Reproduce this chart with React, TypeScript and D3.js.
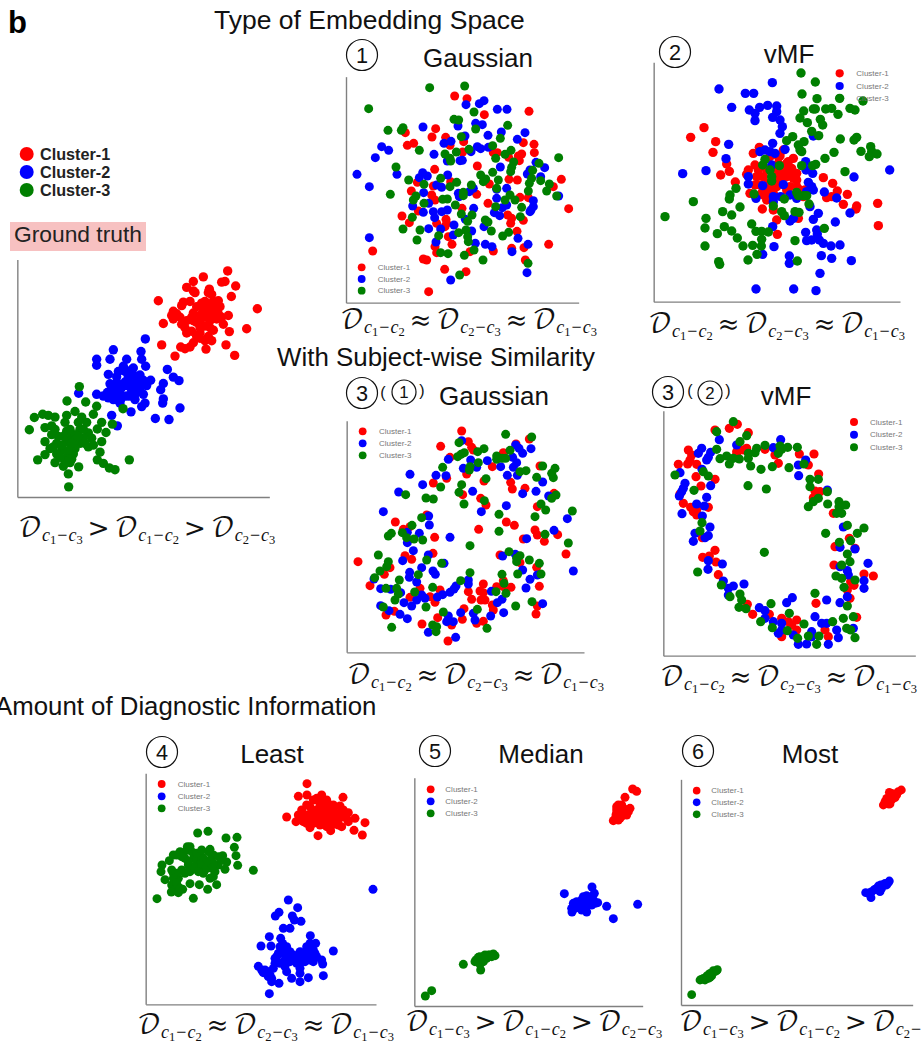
import React, { useEffect, useRef } from 'react'
import * as d3 from 'd3'

type Pt = [number, number]

const seriesNames = ['Cluster-1', 'Cluster-2', 'Cluster-3']
const seriesColors = ['#ff0000', '#0000ff', '#007f00']

const truthRed: Pt[] = [[683,773],[610,790],[580,803],[560,820],[665,805],[675,803],[707,816],[628,825],[585,835],[635,840],[694,846],[475,858],[550,862],[605,865],[655,858],[545,872],[640,880],[772,881],[520,888],[580,893],[630,890],[660,875],[515,900],[540,905],[600,900],[685,900],[620,905],[650,910],[490,923],[560,915],[590,920],[670,925],[555,935],[610,930],[640,942],[740,938],[688,946],[575,945],[600,950],[625,960],[560,950],[635,972],[615,972],[580,978],[485,984],[542,990],[570,990],[678,984],[618,996],[525,1016],[704,1014],[555,995],[600,935],[520,910],[665,905],[590,875],[610,885],[570,860],[645,868],[630,915],[580,915],[600,915],[615,930],[575,905],[640,900],[630,935],[590,960],[600,965],[545,925],[530,895],[655,895],[615,860],[625,875],[580,830],[625,835],[640,860]]
const truthBlue: Pt[] = [[436,967],[340,998],[423,1003],[290,1025],[330,1025],[380,1025],[425,1025],[290,1042],[437,1045],[370,1045],[400,1050],[502,1054],[325,1068],[355,1060],[420,1070],[385,1075],[520,1076],[537,1086],[350,1090],[452,1085],[330,1095],[490,1094],[415,1100],[375,1090],[440,1100],[345,1105],[482,1112],[405,1108],[322,1120],[236,1122],[290,1125],[350,1125],[430,1125],[310,1130],[380,1130],[490,1138],[340,1140],[405,1140],[435,1150],[488,1150],[360,1150],[425,1160],[540,1164],[393,1175],[335,1185],[466,1194],[507,1197],[352,1215],[395,1115],[410,1085],[365,1105],[335,1115],[420,1090],[375,1060],[350,1075],[400,1070],[380,1100],[395,1095],[360,1115],[340,1125],[325,1135],[350,1140],[420,1110],[405,1125],[390,1130],[380,1060],[395,1055],[430,1085],[365,1135],[350,1108]]
const truthGreen: Pt[] = [[238,1103],[201,1144],[257,1147],[290,1159],[369,1166],[225,1174],[128,1182],[145,1185],[165,1190],[103,1191],[280,1182],[200,1185],[245,1190],[88,1226],[135,1220],[155,1215],[195,1205],[235,1205],[305,1205],[260,1205],[337,1210],[292,1224],[318,1234],[165,1225],[200,1230],[240,1225],[265,1235],[155,1240],[215,1245],[250,1250],[275,1250],[135,1260],[170,1265],[305,1260],[200,1260],[240,1265],[150,1280],[185,1285],[225,1280],[265,1275],[135,1297],[170,1295],[300,1290],[220,1295],[113,1312],[200,1305],[388,1312],[292,1312],[165,1320],[190,1330],[310,1322],[236,1332],[328,1335],[345,1340],[205,1352],[206,1389],[215,1310],[185,1270],[280,1270],[225,1240],[210,1225],[225,1255],[190,1245],[175,1245],[215,1265],[205,1285],[235,1245],[250,1225],[255,1265],[195,1315],[180,1305],[210,1320],[160,1275]]

const gaussRed: Pt[] = [[374,198],[411,206],[463,254],[597,244],[226,308],[317,296],[306,321],[347,322],[232,346],[251,340],[360,346],[401,335],[612,343],[580,338],[613,368],[490,368],[502,368],[398,366],[575,372],[565,378],[536,382],[568,392],[442,408],[314,418],[694,448],[262,457],[362,455],[478,462],[537,448],[562,450],[310,468],[244,483],[440,493],[595,503],[570,502],[305,495],[315,510],[474,520],[396,535],[716,536],[265,543],[216,558],[533,555],[238,578],[545,565],[348,568],[320,580],[542,580],[580,571],[345,590],[561,604],[355,620],[656,643],[366,643],[128,663],[315,650],[320,668],[490,663],[545,655],[582,653],[280,687],[290,690],[420,665],[586,690],[344,718],[408,725],[296,785],[350,580],[670,470]]
const gaussBlue: Pt[] = [[408,224],[462,212],[448,221],[502,238],[531,238],[437,280],[457,284],[384,288],[279,291],[405,318],[514,306],[585,308],[474,316],[562,328],[342,340],[363,334],[155,350],[176,361],[442,350],[452,356],[475,352],[423,365],[312,373],[136,383],[352,393],[390,392],[397,391],[511,411],[618,397],[644,413],[600,420],[592,432],[81,433],[201,433],[278,428],[268,443],[292,438],[353,435],[632,440],[118,470],[320,465],[335,472],[500,478],[530,475],[281,488],[430,475],[385,490],[418,485],[388,500],[686,498],[500,505],[610,512],[248,528],[296,520],[517,533],[530,525],[610,530],[431,535],[600,545],[310,545],[280,547],[335,545],[352,540],[314,563],[493,548],[509,557],[603,540],[406,568],[372,585],[462,590],[296,596],[332,597],[370,615],[425,603],[118,623],[564,625],[318,636],[436,640],[466,643],[486,650],[594,643],[546,665],[591,728],[362,750]]
const gaussGreen: Pt[] = [[404,168],[299,173],[116,236],[432,246],[372,268],[386,270],[533,286],[174,301],[219,293],[214,301],[437,297],[394,320],[511,325],[268,361],[488,347],[543,361],[417,358],[379,366],[345,372],[525,373],[497,385],[360,385],[362,393],[551,396],[686,383],[627,400],[198,411],[545,412],[608,421],[488,427],[542,425],[452,435],[467,447],[236,450],[332,445],[605,445],[505,450],[632,452],[460,455],[380,457],[282,463],[598,460],[360,470],[424,465],[658,462],[500,475],[595,483],[181,493],[650,483],[400,487],[680,498],[258,498],[400,497],[338,508],[540,495],[250,510],[282,520],[352,507],[525,510],[555,510],[376,525],[497,530],[575,532],[394,552],[426,555],[247,562],[571,560],[413,574],[466,570],[474,576],[219,597],[270,600],[484,603],[386,608],[408,600],[326,617],[413,620],[536,607],[518,618],[261,630],[415,635],[432,660],[332,668],[354,671],[403,676],[459,690],[594,700],[389,735]]

const vmfRed: Pt[] = [[222,293],[182,322],[257,335],[249,367],[290,402],[298,424],[272,435],[316,456],[355,420],[350,433],[388,352],[370,370],[375,405],[460,360],[450,378],[490,385],[475,395],[445,400],[485,415],[465,420],[450,430],[380,440],[490,445],[500,450],[440,450],[375,465],[580,443],[608,460],[622,483],[652,493],[360,490],[400,480],[440,470],[480,470],[590,503],[605,500],[640,523],[680,528],[678,537],[743,520],[745,587],[410,510],[400,495],[430,490],[397,537],[430,540],[440,570],[505,565],[442,613],[470,400],[420,380],[455,410],[415,460],[525,480],[520,500],[390,465],[410,420],[400,440],[420,470],[470,440],[480,430],[385,420],[395,490],[415,490],[470,480],[500,470],[510,480],[445,380],[440,420],[430,440],[455,450],[500,430]]
const vmfBlue: Pt[] = [[427,158],[267,177],[346,190],[371,190],[305,232],[358,240],[389,232],[413,226],[440,228],[440,245],[375,250],[428,262],[450,270],[375,272],[457,290],[450,310],[550,318],[296,343],[428,340],[405,360],[390,365],[420,365],[435,370],[465,358],[288,386],[425,405],[527,395],[228,422],[158,431],[779,420],[528,420],[548,430],[672,441],[355,440],[355,462],[398,467],[460,464],[535,457],[545,470],[530,485],[583,486],[378,505],[430,500],[452,500],[480,495],[500,505],[550,480],[620,504],[430,515],[540,530],[660,549],[565,550],[550,568],[490,565],[480,573],[616,576],[428,590],[527,607],[560,600],[562,612],[530,632],[545,630],[568,630],[580,640],[603,648],[630,645],[432,650],[398,673],[478,678],[574,677],[605,685],[664,692],[478,700],[570,730],[378,777],[491,777],[558,782]]
const vmfGreen: Pt[] = [[513,129],[556,156],[516,192],[561,206],[629,205],[699,213],[521,243],[550,237],[556,237],[587,237],[605,235],[660,235],[675,240],[624,253],[510,264],[532,278],[571,268],[578,285],[545,304],[566,317],[488,320],[470,332],[631,327],[680,322],[672,330],[522,335],[505,345],[722,350],[510,360],[515,365],[693,364],[612,367],[725,365],[741,372],[718,380],[585,385],[405,388],[398,405],[448,407],[557,403],[515,407],[548,407],[645,425],[420,420],[425,440],[425,453],[318,475],[300,495],[298,507],[372,492],[500,487],[505,497],[520,497],[530,497],[190,515],[330,531],[430,528],[463,507],[537,522],[278,545],[305,555],[455,545],[495,545],[507,547],[463,557],[105,560],[228,565],[365,582],[225,594],[283,590],[305,603],[262,611],[378,604],[395,604],[415,606],[583,595],[322,624],[395,628],[495,632],[225,648],[339,648],[368,646],[394,648],[381,673],[354,690],[266,695],[269,703],[502,693]]

const subGaussRed: Pt[] = [[395,183],[415,215],[332,229],[425,232],[598,207],[558,222],[520,248],[360,262],[430,240],[487,290],[630,288],[350,325],[310,339],[410,312],[462,333],[542,337],[585,355],[547,357],[672,370],[398,374],[452,385],[468,405],[622,410],[290,435],[196,456],[529,456],[553,466],[446,478],[220,478],[240,470],[615,480],[622,495],[683,494],[314,502],[580,507],[643,514],[225,557],[309,550],[510,555],[708,552],[245,568],[84,575],[570,578],[180,593],[620,592],[163,613],[120,647],[460,642],[500,650],[520,632],[543,652],[628,649],[415,665],[450,663],[460,668],[270,655],[330,660],[300,680],[240,682],[425,688],[453,690],[465,690],[315,697],[487,705],[490,720],[402,716],[622,708],[193,724],[168,735],[618,732],[323,743],[397,748],[460,754],[440,760],[276,762],[365,765],[354,813],[520,650]]
const subGaussBlue: Pt[] = [[395,212],[557,225],[567,235],[603,236],[578,250],[355,268],[422,270],[472,272],[548,262],[560,278],[512,290],[400,295],[440,292],[550,292],[240,313],[318,316],[348,317],[278,344],[532,316],[562,316],[206,366],[428,364],[578,371],[618,364],[656,378],[638,336],[529,407],[160,425],[454,425],[296,438],[712,446],[298,465],[232,487],[268,490],[360,502],[232,518],[672,481],[590,506],[250,542],[295,555],[518,558],[556,553],[218,572],[342,580],[275,593],[578,600],[309,603],[730,603],[239,607],[316,613],[238,622],[622,615],[132,627],[600,628],[260,636],[415,630],[415,642],[152,656],[182,658],[378,648],[588,654],[372,657],[484,664],[212,668],[360,667],[275,675],[222,698],[338,674],[322,681],[260,690],[285,685],[516,688],[502,698],[245,708],[152,707],[638,701],[177,722],[430,730],[210,733],[521,728],[232,746],[392,728],[482,738],[355,738],[350,755],[370,755],[435,750],[295,787],[377,802]]
const subGaussGreen: Pt[] = [[527,193],[605,201],[387,218],[462,236],[540,241],[443,245],[403,248],[393,253],[383,260],[500,258],[500,268],[517,265],[527,265],[445,278],[638,288],[675,295],[338,292],[420,290],[418,300],[570,305],[588,302],[665,310],[670,323],[620,322],[468,326],[395,344],[332,351],[387,367],[227,374],[288,384],[310,387],[678,375],[665,385],[463,392],[402,402],[633,402],[647,420],[507,433],[615,440],[727,423],[275,443],[246,466],[507,484],[184,490],[175,498],[217,488],[230,503],[252,507],[278,510],[645,493],[420,527],[715,519],[537,545],[145,555],[570,557],[560,565],[290,570],[598,570],[335,580],[175,575],[560,575],[628,580],[170,590],[150,603],[420,608],[563,612],[633,612],[265,614],[516,613],[134,623],[208,630],[392,632],[522,640],[168,655],[308,652],[200,655],[498,665],[528,670],[254,666],[205,672],[195,690],[606,695],[288,711],[557,708],[160,711],[442,718],[340,726],[308,765],[320,770],[185,772],[471,775],[318,785]]

const subVmfRed: Pt[] = [[268,175],[292,163],[225,180],[325,188],[145,240],[290,245],[320,235],[155,255],[478,252],[522,252],[150,270],[170,283],[115,283],[143,282],[290,255],[375,238],[405,255],[415,280],[505,285],[536,312],[168,320],[225,328],[183,348],[525,363],[120,372],[540,365],[520,383],[130,400],[205,412],[152,412],[170,420],[160,425],[170,435],[580,430],[187,503],[628,505],[225,541],[585,530],[645,535],[188,562],[208,558],[228,576],[582,585],[235,614],[672,612],[700,618],[632,635],[642,646],[622,660],[630,685],[528,700],[322,703],[338,733],[388,733],[425,745],[445,755],[470,750],[455,765],[470,780],[425,800],[650,742],[555,780],[565,800],[310,240]]
const subVmfBlue: Pt[] = [[238,209],[422,209],[290,225],[185,235],[400,233],[175,250],[212,247],[205,262],[200,270],[497,270],[186,298],[475,285],[476,317],[120,308],[212,347],[135,340],[130,355],[125,365],[118,378],[562,360],[200,382],[170,402],[193,408],[126,431],[187,438],[210,471],[165,490],[205,497],[195,503],[160,514],[610,471],[600,532],[645,537],[205,572],[247,582],[204,598],[684,580],[600,590],[622,602],[625,615],[250,633],[312,642],[280,648],[265,655],[265,675],[672,632],[672,655],[622,680],[457,683],[440,698],[560,690],[600,698],[358,713],[375,722],[375,745],[525,740],[425,760],[400,755],[545,760],[560,760],[640,775],[415,790],[425,780],[515,785],[460,795],[590,780],[515,800],[595,803],[475,823],[500,822],[565,823]]
const subVmfGreen: Pt[] = [[280,155],[230,185],[320,197],[300,215],[230,238],[350,235],[375,226],[420,228],[425,238],[443,232],[472,232],[345,248],[415,250],[240,266],[260,258],[280,265],[298,267],[325,250],[325,265],[268,282],[332,288],[397,290],[447,293],[363,298],[492,282],[105,315],[190,305],[205,318],[510,328],[535,328],[510,350],[324,347],[379,357],[162,361],[562,365],[535,385],[520,395],[505,410],[563,402],[597,395],[617,405],[597,410],[590,430],[605,430],[186,458],[622,466],[672,474],[180,483],[652,490],[557,490],[632,512],[598,517],[373,547],[622,552],[630,575],[605,585],[173,606],[588,618],[605,625],[645,630],[244,645],[612,652],[525,670],[270,680],[300,672],[305,690],[393,701],[297,712],[318,716],[622,708],[448,730],[362,755],[610,745],[640,740],[578,755],[492,762],[397,773],[442,782],[620,775],[632,780],[505,798],[537,798],[473,805],[645,803],[530,823]]

const leastRed: Pt[] = [[531,161],[505,199],[531,195],[575,195],[639,202],[550,210],[590,210],[530,225],[570,225],[630,228],[515,240],[545,240],[585,240],[610,240],[655,248],[470,261],[505,255],[530,255],[570,250],[600,255],[640,260],[675,265],[498,275],[520,275],[552,265],[585,270],[625,270],[655,275],[540,293],[570,285],[605,285],[635,290],[705,278],[672,301],[602,302],[697,315],[564,317],[550,280],[590,290],[615,265],[510,265],[560,240],[560,205],[580,215],[600,225],[540,230],[520,255],[555,255],[575,265],[590,255],[615,250],[630,250],[650,265],[625,285],[530,280],[560,270],[600,270],[640,240],[610,225],[590,225],[535,265],[570,240],[515,270]]
const leastBlue: Pt[] = [[475,510],[503,533],[447,547],[436,558],[487,558],[493,570],[513,574],[460,595],[480,595],[541,617],[418,620],[452,625],[393,648],[423,648],[458,640],[540,640],[557,640],[460,660],[480,665],[510,665],[540,660],[610,663],[440,680],[470,680],[500,680],[530,680],[560,680],[575,690],[435,700],[480,695],[510,700],[550,695],[385,709],[405,720],[465,710],[510,715],[578,702],[420,735],[470,725],[400,728],[485,745],[535,743],[580,737],[425,755],[447,760],[510,755],[418,791],[455,670],[525,695],[415,740],[729,478],[450,650],[470,650],[445,670],[465,690],[490,675],[520,670],[530,650],[550,660],[545,680],[520,690],[500,700],[450,700],[430,715],[415,725],[490,690],[555,670],[435,685],[425,745],[540,690],[510,730],[395,720]]
const leastGreen: Pt[] = [[203,309],[234,304],[288,324],[321,322],[313,352],[172,350],[240,358],[150,365],[185,365],[130,375],[210,375],[250,375],[278,377],[318,377],[118,392],[165,385],[200,395],[240,390],[290,396],[96,405],[323,406],[175,405],[265,405],[93,425],[200,415],[255,425],[285,418],[370,421],[130,430],[165,430],[220,430],[105,449],[145,445],[240,445],[125,465],[180,461],[208,464],[260,464],[135,480],[233,478],[124,486],[145,488],[158,478],[81,506],[190,505],[190,385],[160,370],[180,425],[170,360],[180,350],[200,370],[220,385],[230,400],[210,405],[190,410],[175,395],[155,380],[140,375],[250,400],[265,380],[245,415],[225,420],[205,425],[155,420],[140,430],[130,445],[275,390],[235,365],[215,360],[125,420],[250,440],[140,460],[150,475]]

const medianRed: Pt[] = [[698,177],[710,184],[675,202],[655,225],[650,240],[670,235],[690,235],[650,250],[670,250],[645,268],[660,265],[680,255],[655,235],[665,225],[648,255],[660,245],[675,245],[660,255],[655,270],[665,258],[640,272],[685,245],[650,230],[668,240],[678,240]]
const medianBlue: Pt[] = [[576,471],[493,491],[583,490],[560,497],[545,510],[530,515],[565,515],[593,518],[520,520],[550,525],[620,529],[713,523],[525,535],[516,546],[545,540],[560,546],[640,566],[575,525],[535,525],[540,520],[555,515],[570,505],[575,500],[550,510],[530,530],[540,530],[555,535],[560,525],[570,515],[585,520],[520,530],[515,535],[550,500],[580,510]]
const medianGreen: Pt[] = [[280,672],[265,675],[250,680],[235,682],[285,677],[228,690],[245,692],[190,703],[240,703],[242,720],[95,782],[76,798],[260,685],[270,675],[255,685],[240,690],[235,695],[250,695],[225,695],[245,685],[275,680],[240,680],[255,675]]

const mostRed: Pt[] = [[694,180],[658,187],[680,190],[675,203],[655,205],[650,215],[640,225],[660,222],[645,220],[655,215],[665,210],[670,200],[680,195],[660,200],[685,185],[665,190],[655,222],[645,215],[650,205]]
const mostBlue: Pt[] = [[658,453],[640,465],[625,468],[650,465],[615,478],[630,485],[587,488],[605,485],[603,503],[620,475],[635,475],[645,460],[625,480],[612,480],[600,488],[655,458],[632,465],[595,490]]
const mostGreen: Pt[] = [[142,719],[125,730],[110,738],[95,748],[105,750],[120,742],[65,794],[100,745],[115,735],[125,738],[135,725],[130,722],[115,745],[90,750],[110,745],[120,730],[140,722]]

const SANS = '"Liberation Sans", Arial, sans-serif'
const MATH = '"DejaVu Math TeX Gyre", "DejaVu Serif", serif'
const SERIF = '"Liberation Serif", serif'

// crop = where the enlarged crop starts on the page, ky = its vertical enlargement
const panels = [
  { id: 'truth', crop: [0, 0], ky: 2.853, x0: 52, x1: 808, y0: 1418, y1: 740, series: [truthRed, truthBlue, truthGreen], r: 4.7 },
  { id: 'gauss', crop: [330, 30], ky: 3, x0: 48, x1: 746, y0: 818, y1: 140, series: [gaussRed, gaussBlue, gaussGreen], r: 4.5, legend: [95, 143, [712, 747, 782]] },
  { id: 'vmf', crop: [630, 30], ky: 3, x0: 71, x1: 810, y0: 815, y1: 97, series: [vmfRed, vmfBlue, vmfGreen], r: 4.7, legend: [629, 679, [130, 168, 205]] },
  { id: 'subGauss', crop: [330, 370], ky: 3, x0: 50, x1: 762, y0: 847, y1: 152, series: [subGaussRed, subGaussBlue, subGaussGreen], r: 4.5, legend: [98, 147, [184, 220, 256]] },
  { id: 'subVmf', crop: [640, 370], ky: 3, x0: 70, x1: 826, y0: 857, y1: 122, series: [subVmfRed, subVmfBlue, subVmfGreen], r: 4.6, legend: [642, 690, [156, 194, 232]] },
  { id: 'least', crop: [130, 730], ky: 3, x0: 47, x1: 738, y0: 823, y1: 130, series: [leastRed, leastBlue, leastGreen], r: 4.5, legend: [95, 143, [162, 199, 235]] },
  { id: 'median', crop: [400, 730], ky: 3, x0: 43, x1: 728, y0: 828, y1: 143, series: [medianRed, medianBlue, medianGreen], r: 4.5, legend: [92, 136, [178, 214, 250]] },
  { id: 'most', crop: [670, 730], ky: 3, x0: 33, x1: 728, y0: 825, y1: 148, series: [mostRed, mostBlue, mostGreen], r: 4.4, legend: [80, 124, [182, 217, 253]] },
] as any[]

const headings = [
  { text: 'Type of Embedding Space', x: 214, y: 29, size: 26.5 },
  { text: 'With Subject-wise Similarity', x: 277, y: 366, size: 25.9 },
  { text: 'Amount of Diagnostic Information', x: -5, y: 715, size: 25.8 },
]
const titles = [
  { text: 'Gaussian', x: 478, y: 67 },
  { text: 'vMF', x: 789, y: 63 },
  { text: 'Gaussian', x: 494, y: 405 },
  { text: 'vMF', x: 786, y: 405 },
  { text: 'Least', x: 272, y: 763 },
  { text: 'Median', x: 541, y: 763 },
  { text: 'Most', x: 810, y: 763 },
]
const badges = [
  { n: '1', x: 362, y: 55, r: 15.5 },
  { n: '2', x: 675, y: 52, r: 15.5 },
  { n: '3', x: 362, y: 393, r: 15.5 },
  { n: '1', x: 404, y: 392, r: 12 },
  { n: '3', x: 668, y: 392, r: 15.5 },
  { n: '2', x: 710, y: 393, r: 12 },
  { n: '4', x: 162, y: 752, r: 15.5 },
  { n: '5', x: 435, y: 751, r: 15.5 },
  { n: '6', x: 698, y: 751, r: 15.5 },
]
const parens = [
  { t: '(', x: 383, y: 398 }, { t: ')', x: 422, y: 396 },
  { t: '(', x: 690, y: 396 }, { t: ')', x: 728, y: 396 },
]
const APPROX = [['1', '2'], ['2', '3'], ['1', '3']]
const GREATER = [['1', '3'], ['1', '2'], ['2', '3']]
const formulas = [
  { terms: GREATER, op: '>', x: 18, y: 536 },
  { terms: APPROX, op: '≈', x: 340, y: 328 },
  { terms: APPROX, op: '≈', x: 648, y: 332 },
  { terms: APPROX, op: '≈', x: 347, y: 683 },
  { terms: APPROX, op: '≈', x: 660, y: 685 },
  { terms: APPROX, op: '≈', x: 137, y: 1033 },
  { terms: GREATER, op: '>', x: 405, y: 1030 },
  { terms: GREATER, op: '>', x: 679, y: 1030 },
]

function Panel({ p }: { p: any }) {
  const axisRef = useRef<SVGGElement>(null)
  const x = d3.scaleLinear().domain([p.x0, p.x1]).range([p.crop[0] + p.x0 / 3, p.crop[0] + p.x1 / 3])
  const y = d3.scaleLinear().domain([p.y0, p.y1]).range([p.crop[1] + p.y0 / p.ky, p.crop[1] + p.y1 / p.ky])

  useEffect(() => {
    const g = d3.select(axisRef.current)
    g.selectAll('*').remove()
    const bottom = g.append('g').attr('transform', `translate(0,${y(p.y0)})`)
      .call(d3.axisBottom(x).tickValues([]).tickSizeOuter(0))
    const left = g.append('g').attr('transform', `translate(${x(p.x0)},0)`)
      .call(d3.axisLeft(y).tickValues([]).tickSizeOuter(0))
    bottom.select('.domain').attr('stroke', '#808080').attr('stroke-width', 1.4)
    left.select('.domain').attr('stroke', '#808080').attr('stroke-width', 1.4)
  }, [])

  return (
    <g>
      <g ref={axisRef} />
      <g filter="url(#soft)">
        {p.series.map((pts: Pt[], i: number) => (
          <g key={i} fill={seriesColors[i]}>
            {pts.map((d, j) => <circle key={j} cx={x(d[0])} cy={y(d[1])} r={p.r} />)}
          </g>
        ))}
        {p.legend && seriesNames.map((name, i) => (
          <circle key={name} cx={x(p.legend[0])} cy={y(p.legend[2][i])} r={p.r - 0.6} fill={seriesColors[i]} />
        ))}
      </g>
      {p.legend && seriesNames.map((name, i) => (
        <text key={name} x={x(p.legend[1])} y={y(p.legend[2][i]) + 2.8} fontFamily={SANS} fontSize={8} fill="#777">{name}</text>
      ))}
    </g>
  )
}

function Sub({ a, b }: { a: string, b: string }) {
  return (
    <>
      <tspan dy={5} fontSize={18} fontStyle="italic" fontFamily={SERIF}>c</tspan>
      <tspan dy={3} fontSize={12.5} fontFamily={SERIF}>{a}</tspan>
      <tspan dy={-3} dx={1} fontSize={18} fontFamily={SERIF}>−</tspan>
      <tspan dx={1} fontSize={18} fontStyle="italic" fontFamily={SERIF}>c</tspan>
      <tspan dy={3} fontSize={12.5} fontFamily={SERIF}>{b}</tspan>
    </>
  )
}

function Formula({ f }: { f: any }) {
  return (
    <text x={f.x} y={f.y} fill="#111" fontFamily={MATH} fontSize={26}>
      {f.terms.map((t: string[], i: number) => (
        <React.Fragment key={i}>
          {i > 0 && <tspan dy={-8} dx={5.5} fontFamily={MATH} fontSize={26}>{f.op}</tspan>}
          <tspan dx={i > 0 ? 5.5 : 0}>𝒟</tspan>
          <Sub a={t[0]} b={t[1]} />
        </React.Fragment>
      ))}
    </text>
  )
}

export default function App() {
  return (
    <svg width={922} height={1042} style={{ position: 'absolute', left: 0, top: 0, background: '#fff' }}>
      <defs>
        <filter id="soft" x="-5%" y="-5%" width="110%" height="110%">
          <feGaussianBlur stdDeviation="0.4" />
        </filter>
      </defs>
      <text x={8} y={33} fontFamily={SANS} fontWeight="bold" fontSize={31}>b</text>
      {headings.map(h => (
        <text key={h.text} x={h.x} y={h.y} fontFamily={SANS} fontSize={h.size} fill="#111">{h.text}</text>
      ))}
      {titles.map((t, i) => (
        <text key={i} x={t.x} y={t.y} textAnchor="middle" fontFamily={SANS} fontSize={26} fill="#111">{t.text}</text>
      ))}
      {badges.map((b, i) => (
        <g key={i}>
          <circle cx={b.x} cy={b.y} r={b.r} fill="none" stroke="#111" strokeWidth={1.2} />
          <text x={b.x} y={b.y + b.r * 0.5} textAnchor="middle" fontFamily={SANS} fontSize={b.r * 1.4} fill="#111">{b.n}</text>
        </g>
      ))}
      {parens.map((t, i) => (
        <text key={i} x={t.x} y={t.y} textAnchor="middle" fontFamily={SANS} fontSize={16} fill="#111">{t.t}</text>
      ))}
      {seriesNames.map((name, i) => (
        <g key={name}>
          <circle cx={26.7} cy={154 + i * 18} r={7} fill={seriesColors[i]} />
          <text x={40} y={159.5 + i * 18} fontFamily={SANS} fontWeight="bold" fontSize={16.2} fill="#222">{name}</text>
        </g>
      ))}
      <rect x={10} y={222} width={136} height={29} fill="#f7c1c1" />
      <text x={14} y={242} fontFamily={SANS} fontSize={22.8} fill="#222">Ground truth</text>
      {panels.map(p => <Panel key={p.id} p={p} />)}
      {formulas.map((f, i) => <Formula key={i} f={f} />)}
    </svg>
  )
}
